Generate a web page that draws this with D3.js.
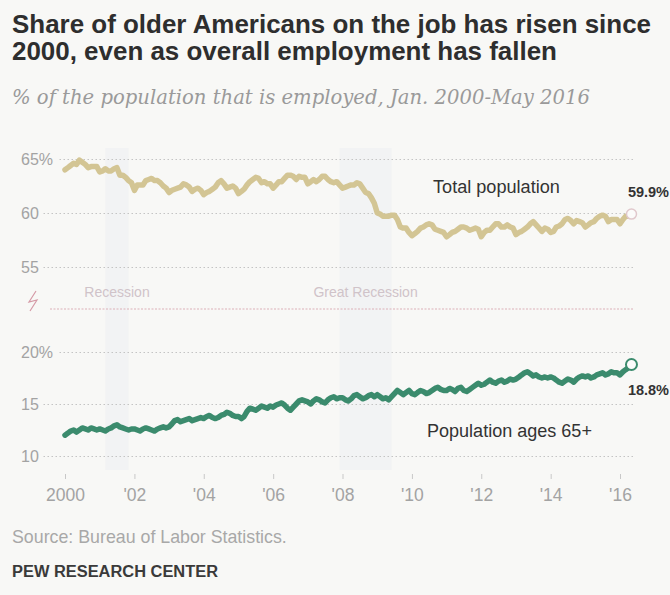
<!DOCTYPE html>
<html>
<head>
<meta charset="utf-8">
<script src="https://cdn.jsdelivr.net/npm/d3@7"></script>
<style>
  html, body { margin: 0; padding: 0; background: #f8f8f6; }
  svg { display: block; }
</style>
</head>
<body>
<svg id="chart" width="670" height="595"></svg>
<script>
// Monthly employment-population ratios (%), not seasonally adjusted, Jan 2000 - May 2016
const firstMonth = "2000-01";

const totalPct = [
  64.0, 64.2, 64.4, 64.6, 64.5, 64.9, 64.7, 64.5, 64.2, 64.3, 64.3, 64.3, // 2000
  63.8, 63.9, 64.1, 63.9, 63.9, 64.1, 64.2, 63.5, 63.5, 63.3, 63.0, 62.8, // 2001
  62.1, 62.6, 62.6, 62.6, 63.0, 63.1, 63.2, 63.0, 63.0, 62.8, 62.5, 62.3, // 2002
  61.9, 62.1, 62.2, 62.3, 62.4, 62.7, 62.6, 62.4, 62.0, 62.2, 62.3, 62.1, // 2003
  61.7, 61.9, 62.0, 62.2, 62.4, 62.8, 63.0, 62.7, 62.3, 62.4, 62.5, 62.3, // 2004
  61.8, 62.0, 62.2, 62.6, 62.9, 63.1, 63.3, 63.2, 62.8, 62.9, 62.7, 62.7, // 2005
  62.3, 62.6, 62.9, 62.9, 63.2, 63.5, 63.5, 63.4, 63.1, 63.4, 63.3, 63.3, // 2006
  62.7, 62.9, 63.1, 62.9, 63.1, 63.4, 63.4, 63.1, 62.9, 62.8, 62.9, 62.6, // 2007
  62.3, 62.4, 62.5, 62.6, 62.6, 62.8, 62.7, 62.3, 61.9, 61.8, 61.4, 60.9, // 2008
  60.0, 59.9, 59.7, 59.7, 59.7, 59.8, 59.8, 59.4, 58.7, 58.6, 58.6, 58.2, // 2009
  57.9, 58.1, 58.3, 58.6, 58.7, 58.9, 59.0, 58.9, 58.5, 58.4, 58.3, 58.2, // 2010
  57.8, 58.0, 58.2, 58.3, 58.5, 58.7, 58.7, 58.6, 58.4, 58.5, 58.6, 58.5, // 2011
  57.8, 58.2, 58.4, 58.4, 58.7, 59.0, 59.0, 58.7, 58.7, 58.9, 58.7, 58.6, // 2012
  58.0, 58.2, 58.3, 58.5, 58.7, 59.0, 59.2, 58.9, 58.6, 58.3, 58.6, 58.5, // 2013
  58.2, 58.3, 58.7, 58.8, 59.0, 59.4, 59.5, 59.3, 59.0, 59.3, 59.2, 59.1, // 2014
  58.7, 58.9, 59.1, 59.2, 59.5, 59.7, 59.8, 59.7, 59.2, 59.4, 59.4, 59.4, // 2015
  59.0, 59.4, 59.7, 59.7, 59.9                                            // 2016
];

const age65Pct = [
  12.0, 12.2, 12.4, 12.5, 12.3, 12.5, 12.7, 12.6, 12.5, 12.7, 12.6, 12.5, // 2000
  12.6, 12.5, 12.4, 12.6, 12.7, 12.9, 13.0, 12.8, 12.7, 12.6, 12.5, 12.6, // 2001
  12.6, 12.5, 12.4, 12.6, 12.7, 12.6, 12.5, 12.4, 12.6, 12.7, 12.8, 12.7, // 2002
  12.8, 13.1, 13.4, 13.5, 13.3, 13.4, 13.5, 13.6, 13.4, 13.5, 13.6, 13.7, // 2003
  13.6, 13.8, 13.9, 13.7, 13.6, 13.7, 13.9, 14.0, 14.2, 14.1, 13.9, 13.8, // 2004
  13.8, 13.6, 13.8, 14.3, 14.6, 14.5, 14.4, 14.6, 14.8, 14.7, 14.6, 14.8, // 2005
  14.7, 14.9, 15.0, 15.1, 14.9, 14.6, 14.4, 14.7, 15.0, 15.3, 15.4, 15.3, // 2006
  15.2, 15.0, 15.3, 15.5, 15.4, 15.2, 15.1, 15.4, 15.6, 15.7, 15.5, 15.6, // 2007
  15.6, 15.4, 15.3, 15.5, 15.8, 15.9, 15.7, 15.5, 15.6, 15.8, 15.9, 15.7, // 2008
  15.9, 15.7, 15.5, 15.6, 15.4, 15.7, 16.0, 16.3, 16.1, 15.9, 16.1, 16.3, // 2009
  16.0, 15.9, 16.1, 16.3, 16.2, 16.0, 16.1, 16.3, 16.5, 16.6, 16.4, 16.3, // 2010
  16.3, 16.5, 16.4, 16.2, 16.5, 16.6, 16.3, 16.2, 16.4, 16.6, 16.8, 17.0, // 2011
  16.8, 16.9, 17.1, 17.3, 17.1, 17.0, 17.2, 17.3, 17.1, 17.2, 17.4, 17.3, // 2012
  17.4, 17.6, 17.8, 18.0, 18.1, 17.9, 17.7, 17.8, 17.6, 17.5, 17.6, 17.5, // 2013
  17.6, 17.5, 17.3, 17.1, 17.0, 17.2, 17.4, 17.3, 17.1, 17.4, 17.6, 17.7, // 2014
  17.6, 17.7, 17.5, 17.6, 17.8, 17.9, 18.0, 17.8, 17.9, 18.1, 18.0, 18.0, // 2015
  17.8, 18.1, 18.3, 18.5, 18.8                                            // 2016
];

const xTickYears  = [2000, 2002, 2004, 2006, 2008, 2010, 2012, 2014, 2016];
const xTickLabels = ["2000", "'02", "'04", "'06", "'08", "'10", "'12", "'14", "'16"];

const topTicks  = [65, 60, 55];
const topLabels = ["65%", "60", "55"];
const lowTicks  = [20, 15, 10];
const lowLabels = ["20%", "15", "10"];

const recessions = [
  { label: "Recession",       start: "2001-03", end: "2001-11" },
  { label: "Great Recession", start: "2007-12", end: "2009-06" }
];

const seriesLabels = { total: "Total population", age65: "Population ages 65+" };
const endLabels    = { total: "59.9%", age65: "18.8%" };

// ---------------------------------------------------------------
const svg = d3.select("#chart");
const W = 670, H = 595;
const parseMonth = d3.timeParse("%Y-%m");
const start = parseMonth(firstMonth);

const totalData = totalPct.map((v, i) => ({ date: d3.timeMonth.offset(start, i), v }));
const age65Data = age65Pct.map((v, i) => ({ date: d3.timeMonth.offset(start, i), v }));

const plotLeft = 65, plotRight = 620, gridRight = 633;
const x = d3.scaleTime()
  .domain([new Date(2000, 0, 1), new Date(2016, 0, 1)])
  .range([plotLeft, plotRight]);
const yTop = d3.scaleLinear().domain([55, 65]).range([267, 159]);
const yLow = d3.scaleLinear().domain([10, 20]).range([456, 352]);

const greyText = "#a3a3a3";
const sans = "'Liberation Sans', Arial, sans-serif";

svg.append("rect").attr("width", W).attr("height", H).attr("fill", "#f8f8f6");

// fit a text element to a target width by scaling its font size
function fitWidth(sel, target) {
  const node = sel.node();
  const fs = parseFloat(sel.attr("font-size"));
  const w = node.getComputedTextLength();
  sel.attr("font-size", (fs * target / w).toFixed(2));
}

// Title and subtitle
const t1 = svg.append("text").attr("x", 12).attr("y", 33)
  .attr("font-family", sans).attr("font-weight", "bold").attr("font-size", 21)
  .attr("fill", "#2e2e2e").text("Share of older Americans on the job has risen since");
fitWidth(t1, 639);
svg.append("text").attr("x", 12).attr("y", 60)
  .attr("font-family", sans).attr("font-weight", "bold").attr("font-size", t1.attr("font-size"))
  .attr("fill", "#2e2e2e").text("2000, even as overall employment has fallen");

const sub = svg.append("text").attr("x", 12).attr("y", 104)
  .attr("font-family", "'DejaVu Serif', Georgia, serif").attr("font-style", "italic")
  .attr("font-size", 15).attr("fill", "#9a9a9a")
  .text("% of the population that is employed, Jan. 2000-May 2016");
fitWidth(sub, 578);

// Recession bands (very faint shading)
const bands = svg.append("g");
recessions.forEach(r => {
  const x0 = x(parseMonth(r.start)), x1 = x(parseMonth(r.end));
  bands.append("rect").attr("x", x0).attr("y", 148).attr("width", x1 - x0).attr("height", 322)
    .attr("fill", "#e6e8ee").attr("opacity", 0.3);
  bands.append("text").attr("x", (x0 + x1) / 2).attr("y", 297)
    .attr("text-anchor", "middle").attr("font-family", sans).attr("font-size", 14)
    .attr("fill", "#d0c3c9").text(r.label);
});

// Y axes with dotted gridlines
function yAxis(scale, ticks, labels) {
  const g = svg.append("g").attr("transform", `translate(${gridRight},0)`)
    .call(d3.axisLeft(scale).tickValues(ticks)
      .tickSize(gridRight - 50)
      .tickFormat((d, i) => labels[i]));
  g.select(".domain").remove();
  g.selectAll(".tick line").attr("stroke", "#c4c4c4").attr("stroke-dasharray", "1.5,2.5");
  g.selectAll(".tick text")
    .attr("font-family", sans).attr("font-size", 16).attr("fill", greyText)
    .attr("text-anchor", "start").attr("x", 21 - gridRight);
  // start each gridline just after its label
  g.selectAll(".tick").each(function () {
    const tx = d3.select(this).select("text").node();
    const w = tx.getComputedTextLength();
    const left = 21 + w + 4;
    d3.select(this).select("line").attr("x2", left - gridRight);
  });
  return g;
}
yAxis(yTop, topTicks, topLabels);
yAxis(yLow, lowTicks, lowLabels);

// Axis break between the panels
const brk = svg.append("g");
brk.append("line").attr("x1", 50).attr("x2", gridRight).attr("y1", 309).attr("y2", 309)
  .attr("stroke", "#dcb0b8").attr("stroke-dasharray", "2,1.5").attr("stroke-width", 1);
brk.append("path").attr("d", "M36,291 L29,302 L37,300 L30,311")
  .attr("fill", "none").attr("stroke", "#d59aa6").attr("stroke-width", 1.2);

// X axis
const xg = svg.append("g").attr("transform", "translate(0,474)")
  .call(d3.axisBottom(x)
    .tickValues(xTickYears.map(yv => new Date(yv, 0, 1)))
    .tickSize(5).tickPadding(10)
    .tickFormat((d, i) => xTickLabels[i]));
xg.select(".domain").remove();
xg.selectAll(".tick line").attr("stroke", "#c8c8c8");
xg.selectAll(".tick text").attr("font-family", sans).attr("font-size", 17.5).attr("fill", greyText);

// Lines
const lineTop = d3.line().x(d => x(d.date)).y(d => yTop(d.v));
const lineLow = d3.line().x(d => x(d.date)).y(d => yLow(d.v));

svg.append("path").datum(totalData).attr("d", lineTop)
  .attr("fill", "none").attr("stroke", "#d3c594").attr("stroke-width", 5.5)
  .attr("stroke-linejoin", "round").attr("stroke-linecap", "round");
svg.append("path").datum(age65Data).attr("d", lineLow)
  .attr("fill", "none").attr("stroke", "#3b8b6d").attr("stroke-width", 5.5)
  .attr("stroke-linejoin", "round").attr("stroke-linecap", "round");

// End markers
const lastT = totalData[totalData.length - 1];
const lastA = age65Data[age65Data.length - 1];
svg.append("circle").attr("cx", x(lastT.date)).attr("cy", yTop(lastT.v)).attr("r", 5)
  .attr("fill", "#fbfbfa").attr("stroke", "#e0c8cc").attr("stroke-width", 1.5);
svg.append("circle").attr("cx", x(lastA.date)).attr("cy", yLow(lastA.v)).attr("r", 5.5)
  .attr("fill", "#fbfbfa").attr("stroke", "#3b8b6d").attr("stroke-width", 2);

// Series labels
const lt = svg.append("text").attr("x", 433).attr("y", 193)
  .attr("font-family", sans).attr("font-size", 16).attr("fill", "#333").text(seriesLabels.total);
fitWidth(lt, 127);
const la = svg.append("text").attr("x", 427).attr("y", 437)
  .attr("font-family", sans).attr("font-size", 16).attr("fill", "#333").text(seriesLabels.age65);
fitWidth(la, 165);

svg.append("text").attr("x", 669).attr("y", 197).attr("text-anchor", "end")
  .attr("font-family", sans).attr("font-weight", "bold").attr("font-size", 14.5)
  .attr("fill", "#333").text(endLabels.total);
svg.append("text").attr("x", 669).attr("y", 395).attr("text-anchor", "end")
  .attr("font-family", sans).attr("font-weight", "bold").attr("font-size", 14.5)
  .attr("fill", "#333").text(endLabels.age65);

// Footer
const src = svg.append("text").attr("x", 12).attr("y", 543)
  .attr("font-family", sans).attr("font-size", 14).attr("fill", "#a8a8a8")
  .text("Source: Bureau of Labor Statistics.");
fitWidth(src, 275);
const pew = svg.append("text").attr("x", 12).attr("y", 577)
  .attr("font-family", sans).attr("font-weight", "bold").attr("font-size", 14)
  .attr("fill", "#3a3a3a").text("PEW RESEARCH CENTER");
fitWidth(pew, 206);
</script>
</body>
</html>
